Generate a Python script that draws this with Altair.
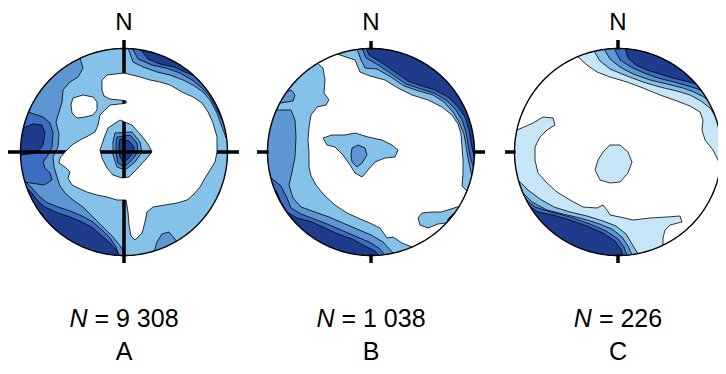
import math
import altair as alt
import pandas as pd

# ---------------------------------------------------------------- layout
R = 103.5                      # radius of the primitive circle (net units)
PANEL_X = [0.0, 247.0, 494.0]  # horizontal offset of each net
CENTER = [116, 144]            # screen position of net A centre
OUT = 1.16 * R
FS = 25
FS_TOP = 24

# ---------------------------------------------------------------- data
PANEL_LETTERS = ["A", "B", "C"]
PANEL_COUNTS = ["9 308", "1 038", "226"]
BASE_LEVEL = [2, 0, 0]
LEVEL_COLORS = ["#ffffff", "#c6e6f7", "#84c2ea", "#5d96d3", "#3b6ec3", "#1f3b8b"]

# contour lines that start and end on the primitive circle (x east, y south)
A_NE_MD = [(4,-104),(9,-90),(19,-85),(33,-80),(46,-77),(59,-72),(69,-67),(79,-60),(86,-52),(93,-39),(98,-25),(103,-12)]
A_NE_RY = [(8,-104),(14,-93),(28,-87),(42,-84),(56,-79),(68,-72),(78,-64),(86,-55),(93,-42),(100,-28)]
A_NE_NV = [(16,-103),(24,-93),(36,-88),(50,-85),(61,-80),(73,-75)]
A_SE_MD = [(30,100),(33,90),(38,82),(45,80),(50,86),(53,90)]
A_W_MD = [(-44,-94),(-41,-84),(-46,-75),(-54,-70),(-61,-62),(-62,-50),(-65,-40),(-68,-30),(-65,-18),(-66,-5),
          (-71,5),(-70,15),(-67,25),(-64,34),(-58,42),(-51,48),(-41,55),(-31,65),(-21,75),(-11,85),(-3,95),(2,104)]
A_W_RY = [(-96,-40),(-81,-35),(-74,-29),(-71,-19),(-72,-5),(-76,3),(-81,10),(-79,16),(-74,21),(-72,28),(-80,33),(-100,30)]
A_SW_RY = [(-99,29),(-92,36),(-85,44),(-78,50),(-66,55),(-54,59),(-42,64),(-31,70),(-22,78),(-14,86),(-8,95),(-5,104)]
A_W_NV = [(-101,-24),(-91,-28),(-82,-27),(-79,-19),(-81,-7),(-87,1),(-96,2),(-103,3)]
A_SW_NV = [(-99,34),(-92,41),(-86,49),(-79,55),(-66,61),(-54,65),(-42,70),(-31,76),(-22,84),(-14,91),(-8,98),(-4,104)]

B_NE_LB = [(-34,-98),(-16,-92),(-11,-80),(-1,-76),(14,-72),(27,-64),(41,-57),(57,-52),(71,-45),(81,-37),(87,-28),
           (90,-18),(91,-5),(92,8),(92,22),(91,34),(97,40)]
B_SE_LB = [(89,54),(80,57),(70,60),(60,60),(51,61),(47,66),(49,73),(57,76),(67,72),(75,71)]
B_W_LB = [(-54,-89),(-48,-84),(-46,-72),(-47,-59),(-42,-52),(-45,-47),(-54,-45),(-60,-37),(-62,-25),(-63,-12),
          (-62,1),(-62,15),(-60,24),(-55,33),(-47,43),(-36,53),(-24,61),(-13,66),(-1,71),(9,76),(16,86),(22,85),(31,91),(41,95)]
B_NE_MD = [(-14,-103),(-10,-92),(-6,-84),(6,-83),(20,-75),(33,-66),(48,-61),(62,-57),(73,-50),(82,-40),(88,-30),
           (93,-18),(95,-6),(97,6),(100,20)]
B_W_MD = [(-93,-42),(-80,-42),(-76,-32),(-75,-15),(-76,5),(-79,20),(-82,33),(-78,46),(-70,55),(-56,60),(-42,65),
          (-28,71),(-14,77),(0,83),(12,90),(22,101)]
B_NW_MD = [(-86,-59),(-80,-62),(-76,-57),(-78,-51),(-91,-49)]
B_NE_RY = [(-9,-104),(-5,-94),(9,-86),(22,-77),(35,-68),(50,-63),(63,-59),(75,-52),(85,-42),(91,-32),(95,-20),
           (97,-8),(99,4),(102,14)]
B_SW_RY = [(-100,26),(-90,34),(-84,46),(-80,56),(-70,62),(-57,67),(-44,72),(-30,78),(-16,84),(-2,90),(8,96),(14,103)]
B_NE_NV = [(-5,-104),(-2,-97),(11,-89),(24,-80),(37,-71),(51,-66),(64,-62),(77,-55),(87,-45),(94,-35),(98,-22),
           (100,-10),(102,0),(104,8)]
B_SW_NV = [(-100,34),(-94,40),(-90,50),(-84,60),(-74,66),(-59,70),(-46,76),(-33,82),(-19,87),(-6,94),(4,99),(8,104)]
B_SE_NV = [(82,62),(77,67),(76,72)]

C_NE_VL = [(-41,-96),(-31,-87),(-21,-80),(-8,-75),(9,-70),(25,-64),(42,-57),(59,-51),(72,-46),(82,-40),(85,-32),
           (84,-22),(87,-12),(95,-2),(100,8),(103,16)]
C_NE_LB = [(-24,-101),(-18,-91),(-8,-83),(9,-76),(25,-70),(42,-65),(59,-61),(72,-57),(83,-51),(92,-44),(98,-35)]
C_NE_MD = [(-14,-103),(-8,-93),(2,-85),(15,-78),(32,-72),(49,-68),(65,-64),(76,-60),(86,-55),(91,-50)]
C_NE_RY = [(-4,-104),(2,-92),(13,-85),(26,-79),(40,-74),(56,-70),(70,-66),(80,-63),(87,-59)]
C_NE_NV = [(7,-104),(10,-94),(18,-87),(29,-82),(42,-78),(55,-74),(67,-71),(79,-68)]
C_SW_VL = [(45,93),(45,86),(47,78),(52,73),(64,70),(62,64),(49,65),(32,66),(15,68),(2,65),(-8,63),(-11,58),(-15,53),
           (-21,56),(-35,55),(-48,48),(-61,40),(-71,31),(-80,21),(-83,8),(-83,-5),(-78,-15),(-71,-22),(-63,-27),
           (-65,-34),(-75,-35),(-85,-29),(-101,-22)]
C_SW_LB = [(-100,28),(-90,38),(-78,47),(-64,55),(-48,60),(-31,64),(-15,69),(-2,74),(8,82),(14,92),(20,102)]
C_SW_MD = [(-96,40),(-86,50),(-71,58),(-55,62),(-38,66),(-21,71),(-6,77),(4,85),(10,94),(14,103)]
C_SW_RY = [(-93,47),(-83,55),(-67,60),(-48,65),(-28,72),(-12,79),(0,87),(6,95),(9,104)]
C_SW_NV = [(-89,54),(-80,60),(-65,63),(-48,68),(-31,74),(-15,81),(-3,89),(3,97),(5,104)]

# closed contours
A_C_MD = [(-9,-19),(8,-20),(16,-10),(18,0),(11,10),(1,18),(-7,15),(-11,3),(-11,-10)]
A_C_RY = [(-7,-15),(6,-17),(13,-9),(14,0),(8,8),(0,15),(-6,11),(-8,1),(-8,-9)]
A_C_NV = [(-4,-13),(5,-11),(10,-5),(9,1),(4,7),(-1,10),(-4,5),(-5,-2),(-5,-8)]
B_C_LB = [(-48,-14),(-39,-17),(-26,-17),(-16,-19),(-3,-15),(11,-12),(21,-7),(27,-2),(24,5),(14,6),(4,10),(-3,18),
          (-9,25),(-16,21),(-21,13),(-28,3),(-36,-5),(-44,-7)]
B_C_MD = [(-19,-4),(-13,-7),(-6,-4),(-4,3),(-9,11),(-14,15),(-19,10),(-20,3)]
C_C_VL = [(-8,-7),(2,-7),(10,0),(14,10),(10,21),(2,30),(-8,31),(-18,28),(-23,18),(-20,8),(-15,0)]

# lowest (white) contour of net A, drawn over the cross
A_WHITE_OUTER = [(-22,-72),(-17,-77),(0,-79),(16,-75),(26,-72),(36,-70),(46,-67),(58,-60),(69,-55),(78,-49),(84,-40),
                 (89,-29),(93,-15),(93,0),(91,10),(86,18),(81,26),(76,35),(69,43),(63,48),(53,51),(41,53),(29,55),
                 (23,60),(21,70),(18,81),(11,88),(7,84),(5,73),(4,60),(2,48),(-7,48),(-17,45),(-27,43),(-37,40),
                 (-46,36),(-52,33),(-56,26),(-54,20),(-59,15),(-65,11),(-64,6),(-59,0),(-52,-7),(-44,-12),(-36,-16),
                 (-29,-20),(-26,-27),(-24,-37),(-16,-45),(-14,-47),(0,-48.5),(2,-49),(2.5,-50),(2,-51),(0,-51.5),
                 (-14,-53),(-20,-56),(-22,-62),(-22,-67)]
A_WHITE_HOLE = [(-16,-24),(-4,-32),(8,-27),(17,-17),(24,-8),(28,0),(22,7),(14,16),(5,25),(-2,26),(-11,23),(-17,16),
                (-22,6),(-24,-2),(-20,-14)]
A_WHITE_BLOB = [(-51,-54),(-41,-57),(-31,-55),(-27,-50),(-27,-42),(-31,-37),(-39,-35),(-47,-34),(-52,-39),(-53,-47)]

BANDS = [
    (0, 3, A_NE_MD), (0, 3, A_SE_MD), (0, 3, A_W_MD), (0, 4, A_NE_RY), (0, 4, A_W_RY), (0, 4, A_SW_RY),
    (0, 5, A_NE_NV), (0, 5, A_W_NV), (0, 5, A_SW_NV),
    (1, 2, B_NE_LB), (1, 2, B_SE_LB), (1, 2, B_W_LB), (1, 3, B_NE_MD), (1, 3, B_W_MD), (1, 3, B_NW_MD),
    (1, 4, B_NE_RY), (1, 4, B_SW_RY), (1, 5, B_NE_NV), (1, 5, B_SW_NV), (1, 5, B_SE_NV),
    (2, 1, C_NE_VL), (2, 1, C_SW_VL), (2, 2, C_NE_LB), (2, 2, C_SW_LB), (2, 3, C_NE_MD), (2, 3, C_SW_MD),
    (2, 4, C_NE_RY), (2, 4, C_SW_RY), (2, 5, C_NE_NV), (2, 5, C_SW_NV),
]
CLOSED = [(0, 3, A_C_MD), (0, 4, A_C_RY), (0, 5, A_C_NV), (1, 2, B_C_LB), (1, 3, B_C_MD), (2, 1, C_C_VL)]

# distance of the outer end of the N, E, S, W ticks from the centre
TICK_END = [(112, 115, 111, 116), (111, 114, 111, 114), (112, 112, 111, 113)]


# ---------------------------------------------------------------- geometry helpers
def circle_ring(r, n=240):
    return [(r * math.cos(2 * math.pi * k / n), r * math.sin(2 * math.pi * k / n)) for k in range(n)]


def area(ring):
    s = 0.0
    for i in range(len(ring)):
        x1, y1 = ring[i]
        x2, y2 = ring[(i + 1) % len(ring)]
        s += x1 * y2 - x2 * y1
    return s / 2


def orient(ring, positive):
    return ring if (area(ring) > 0) == positive else ring[::-1]


def extend(p_in, p_end):
    ax, ay = p_in
    dx, dy = p_end[0] - ax, p_end[1] - ay
    dd = dx * dx + dy * dy
    ad = ax * dx + ay * dy
    aa = ax * ax + ay * ay
    t = (-ad + math.sqrt(max(ad * ad - dd * (aa - OUT * OUT), 0))) / dd
    return (ax + t * dx, ay + t * dy)


def band_ring(poly):
    e0 = extend(poly[1], poly[0])
    en = extend(poly[-2], poly[-1])
    a0 = math.atan2(e0[1], e0[0])
    an = math.atan2(en[1], en[0])
    mx = sum(p[0] for p in poly) / len(poly)
    my = sum(p[1] for p in poly) / len(poly)
    d = (a0 - an) % (2 * math.pi)

    def mid_dist(delta):
        t = an + delta / 2
        return (OUT * math.cos(t) - mx) ** 2 + (OUT * math.sin(t) - my) ** 2

    delta = min([d, d - 2 * math.pi], key=mid_dist)
    steps = int(abs(delta) / math.radians(8)) + 2
    ring = [e0] + list(poly) + [en]
    for k in range(1, steps):
        t = an + delta * k / steps
        ring.append((OUT * math.cos(t), OUT * math.sin(t)))
    return ring


def poly_feature(rings, panel, level):
    ox = PANEL_X[panel]
    coords = []
    for k, ring in enumerate(rings):
        ring = orient(list(ring), k == 0)
        c = [[x + ox, y] for x, y in ring]
        c.append(c[0])
        coords.append(c)
    return {"type": "Feature", "geometry": {"type": "Polygon", "coordinates": coords},
            "properties": {"level": level}}


def line_feature(points, panel):
    ox = PANEL_X[panel]
    return {"type": "Feature", "geometry": {"type": "LineString",
                                            "coordinates": [[x + ox, y] for x, y in points]},
            "properties": {}}


def geo(features):
    return alt.InlineData(values={"type": "FeatureCollection", "features": features},
                          format=alt.DataFormat(property="features", type="json"))


# ---------------------------------------------------------------- features
fill_feats = []
for p in range(3):
    fill_feats.append(poly_feature([circle_ring(R + 0.5)], p, BASE_LEVEL[p]))
    items = [(lvl, band_ring(pl)) for (pp, lvl, pl) in BANDS if pp == p]
    items += [(lvl, pl) for (pp, lvl, pl) in CLOSED if pp == p]
    items.sort(key=lambda it: it[0])
    for lvl, ring in items:
        fill_feats.append(poly_feature([ring], p, lvl))

cross_feats = [line_feature([(0, -TICK_END[0][0]), (0, TICK_END[0][2])], 0),
               line_feature([(-TICK_END[0][3], 0), (TICK_END[0][1], 0)], 0)]

white_feats = [poly_feature([A_WHITE_OUTER, A_WHITE_HOLE], 0, 0), poly_feature([A_WHITE_BLOB], 0, 0)]

H = 123.5
mask_feats = [poly_feature([[(-H, -H), (H, -H), (H, H), (-H, H)], circle_ring(R)], p, 0) for p in range(3)]

rim_feats = []
for p in range(3):
    ring = circle_ring(R)
    rim_feats.append(line_feature(ring + [ring[0]], p))

tick_feats = []
for p in range(3):
    n, e, s, w = TICK_END[p]
    r0 = R - 1
    tick_feats += [line_feature([(0, -r0), (0, -n)], p), line_feature([(r0, 0), (e, 0)], p),
                   line_feature([(0, r0), (0, s)], p), line_feature([(-r0, 0), (-w, 0)], p)]

level_scale = alt.Scale(domain=list(range(6)), range=LEVEL_COLORS)

fills = alt.Chart(geo(fill_feats)).mark_geoshape(stroke="black", strokeWidth=0.8, strokeJoin="round").encode(
    fill=alt.Fill("properties.level:O", scale=level_scale, legend=None))
cross = alt.Chart(geo(cross_feats)).mark_geoshape(filled=False, stroke="black", strokeWidth=3.5, strokeCap="butt")
whites = alt.Chart(geo(white_feats)).mark_geoshape(stroke="black", strokeWidth=0.8, strokeJoin="round").encode(
    fill=alt.Fill("properties.level:O", scale=level_scale, legend=None))
mask = alt.Chart(geo(mask_feats)).mark_geoshape(fill="white", stroke="white", strokeWidth=0)
rims = alt.Chart(geo(rim_feats)).mark_geoshape(filled=False, stroke="black", strokeWidth=1.4)
ticks = alt.Chart(geo(tick_feats)).mark_geoshape(filled=False, stroke="black", strokeWidth=3.5, strokeCap="butt")

# ---------------------------------------------------------------- text
NB = "\u00a0"
ADV = {" ": 0.278, NB: 0.278, "=": 0.584, "N": 0.722}


def text_width(s, fs):
    return sum(ADV.get(ch, 0.556) for ch in s) * fs


rest = ["=" + NB + c.replace(" ", NB) for c in PANEL_COUNTS]
gap = text_width(" ", FS)
n_right = [PANEL_X[i] - (text_width("N", FS) + gap + text_width(rest[i], FS)) / 2 + text_width("N", FS)
           for i in range(3)]
rest_left = [x + gap for x in n_right]

top_df = pd.DataFrame({"lon": PANEL_X, "lat": [-122] * 3, "t": ["N"] * 3})
letter_df = pd.DataFrame({"lon": PANEL_X, "lat": [208] * 3, "t": PANEL_LETTERS})
n_df = pd.DataFrame({"lon": n_right, "lat": [175] * 3, "t": ["N"] * 3})
rest_df = pd.DataFrame({"lon": rest_left, "lat": [175] * 3, "t": rest})

txt = dict(font="Liberation Sans", baseline="alphabetic", color="black")
top_text = alt.Chart(top_df).mark_text(align="center", fontSize=FS_TOP, **txt).encode(
    longitude="lon:Q", latitude="lat:Q", text="t:N")
letter_text = alt.Chart(letter_df).mark_text(align="center", fontSize=FS, **txt).encode(
    longitude="lon:Q", latitude="lat:Q", text="t:N")
n_text = alt.Chart(n_df).mark_text(align="right", fontStyle="italic", fontSize=FS, **txt).encode(
    longitude="lon:Q", latitude="lat:Q", text="t:N")
rest_text = alt.Chart(rest_df).mark_text(align="left", fontSize=FS, **txt).encode(
    longitude="lon:Q", latitude="lat:Q", text="t:N")

chart = alt.layer(
    fills, cross, whites, mask, rims, ticks, top_text, letter_text, n_text, rest_text,
    projection=alt.Projection(type="identity", scale=1, translate=CENTER),
).properties(width=710, height=358, autosize="none", padding=0).configure_view(strokeWidth=0)

chart.save("out.html", embed_options={"renderer": "svg", "actions": False})
